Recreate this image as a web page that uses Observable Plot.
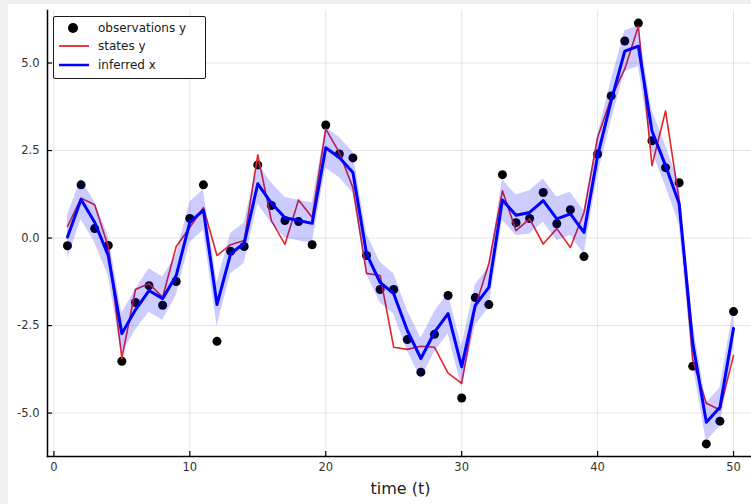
<!DOCTYPE html>
<html>
<head>
<meta charset="utf-8">
<script src="https://cdn.jsdelivr.net/npm/d3@7"></script>
<script src="https://cdn.jsdelivr.net/npm/@observablehq/plot@0.6"></script>
<style>
  html, body { margin: 0; padding: 0; width: 751px; height: 504px; overflow: hidden; background: #efefef; font-family: "DejaVu Sans", sans-serif; }
  #wrap { position: absolute; left: 8px; top: 4px; width: 745px; height: 500px; background: #fff; }
  #legend { position: absolute; left: 53px; top: 16px; width: 151px; height: 61px; border: 1.5px solid #1a1a1a; border-radius: 2px; background: #fff; font-size: 12px; color: #1a1a1a; }
  .row { position: absolute; left: 0; height: 18px; line-height: 18px; width: 100%; }
  .row span { position: absolute; left: 44px; }
  .sym { position: absolute; }
</style>
</head>
<body>
<div id="wrap"></div>
<div id="legend">
  <div class="row" style="top:2px"><svg class="sym" width="40" height="18" style="left:4px"><circle cx="15" cy="9" r="5" fill="#000"/></svg><span>observations y</span></div>
  <div class="row" style="top:20px"><svg class="sym" width="40" height="18" style="left:4px"><line x1="1" x2="31" y1="9" y2="9" stroke="#e3262a" stroke-width="1.8"/></svg><span>states y</span></div>
  <div class="row" style="top:39px"><svg class="sym" width="40" height="18" style="left:4px"><line x1="1" x2="31" y1="9" y2="9" stroke="#0000ff" stroke-width="2.5"/></svg><span>inferred x</span></div>
</div>
<script>
const t = [1,2,3,4,5,6,7,8,9,10,11,12,13,14,15,16,17,18,19,20,21,22,23,24,25,26,27,28,29,30,31,32,33,34,35,36,37,38,39,40,41,42,43,44,45,46,47,48,49,50];
const observations = [-0.22,1.52,0.27,-0.21,-3.52,-1.84,-1.36,-1.92,-1.24,0.56,1.52,-2.95,-0.38,-0.24,2.09,0.93,0.50,0.47,-0.19,3.23,2.40,2.29,-0.50,-1.47,-1.47,-2.90,-3.83,-2.75,-1.64,-4.57,-1.70,-1.90,1.81,0.44,0.56,1.30,0.41,0.81,-0.53,2.40,4.06,5.63,6.14,2.78,2.01,1.58,-3.66,-5.88,-5.23,-2.10];
const states = [0.33,1.14,0.95,-0.25,-3.43,-1.47,-1.30,-1.69,-0.24,0.30,0.87,-0.50,-0.19,-0.07,2.38,0.50,-0.18,1.09,0.59,3.12,2.44,1.44,-1.01,-1.07,-3.12,-3.18,-3.09,-3.12,-3.86,-4.15,-1.98,-0.73,1.35,0.21,0.55,-0.17,0.27,-0.27,0.73,2.87,4.01,4.83,6.05,2.07,3.63,1.07,-3.49,-4.72,-4.91,-3.35];
const inferred = [0.03,1.10,0.45,-0.50,-2.73,-2.05,-1.50,-1.73,-1.07,0.45,0.80,-1.90,-0.45,-0.15,1.55,1.00,0.58,0.50,0.42,2.58,2.30,1.87,-0.45,-1.27,-1.59,-2.64,-3.44,-2.69,-2.16,-3.68,-1.92,-1.41,1.09,0.65,0.73,1.07,0.55,0.69,0.16,2.35,3.92,5.34,5.48,3.06,2.07,0.98,-3.00,-5.26,-4.83,-2.58];
const spread = [0.62,0.58,0.58,0.58,0.58,0.58,0.62,0.62,0.58,0.58,0.58,0.62,0.58,0.58,0.58,0.58,0.58,0.58,0.58,0.58,0.58,0.58,0.58,0.58,0.58,0.58,0.58,0.58,0.58,0.58,0.58,0.58,0.58,0.58,0.62,0.62,0.62,0.62,0.62,0.58,0.58,0.58,0.58,0.58,0.58,0.58,0.58,0.55,0.55,0.55];
const xTicks = [0,10,20,30,40,50];
const yTicks = [-5,-2.5,0,2.5,5];
const xLabel = "time (t)";

const rows = t.map((ti, i) => ({t: ti, obs: observations[i], st: states[i], x: inferred[i], lo: inferred[i] - spread[i], hi: inferred[i] + spread[i]}));

const W = 745, H = 500, mL = 39, mR = 0, mT = 6, mB = 48;
const fw = W - mL - mR, fh = H - mT - mB;

const chart = Plot.plot({
  width: W, height: H,
  marginLeft: mL, marginRight: mR, marginTop: mT, marginBottom: mB,
  style: {fontFamily: "DejaVu Sans, sans-serif", background: "white", color: "#333"},
  x: {domain: [-0.47, 51.47]},
  y: {domain: [-6.24, 6.5]},
  marks: [
    Plot.gridX(xTicks, {stroke: "#000", strokeOpacity: 0.1, strokeWidth: 1}),
    Plot.gridY(yTicks, {stroke: "#000", strokeOpacity: 0.1, strokeWidth: 1}),
    Plot.axisX(xTicks, {tickSize: 0, tickPadding: 6, fontSize: 11.5, fill: "#333", label: null, tickFormat: d => String(d)}),
    Plot.axisY(yTicks, {tickSize: 0, tickPadding: 8, fontSize: 11.5, fill: "#333", label: null, tickFormat: d => d.toFixed(1)}),
    Plot.tickX(xTicks, {x: d => d, stroke: "#000", strokeWidth: 1.2, insetTop: fh - 5}),
    Plot.tickY(yTicks, {y: d => d, stroke: "#000", strokeWidth: 1.2, insetRight: fw - 5}),
    Plot.frame({anchor: "left", stroke: "#000", strokeWidth: 1.5}),
    Plot.frame({anchor: "bottom", stroke: "#000", strokeWidth: 1.5}),
    Plot.dot(rows, {x: "t", y: "obs", r: 4.5, fill: "#000", stroke: "none"}),
    Plot.line(rows, {x: "t", y: "st", stroke: "#e3262a", strokeWidth: 1.6}),
    Plot.areaY(rows, {x: "t", y1: "lo", y2: "hi", fill: "#0000ff", fillOpacity: 0.2}),
    Plot.line(rows, {x: "t", y: "x", stroke: "#0000ff", strokeWidth: 3}),
    Plot.text([xLabel], {frameAnchor: "bottom", dy: 37, fontSize: 16, fill: "#222", text: d => d})
  ]
});
document.getElementById("wrap").appendChild(chart);
</script>
</body>
</html>
